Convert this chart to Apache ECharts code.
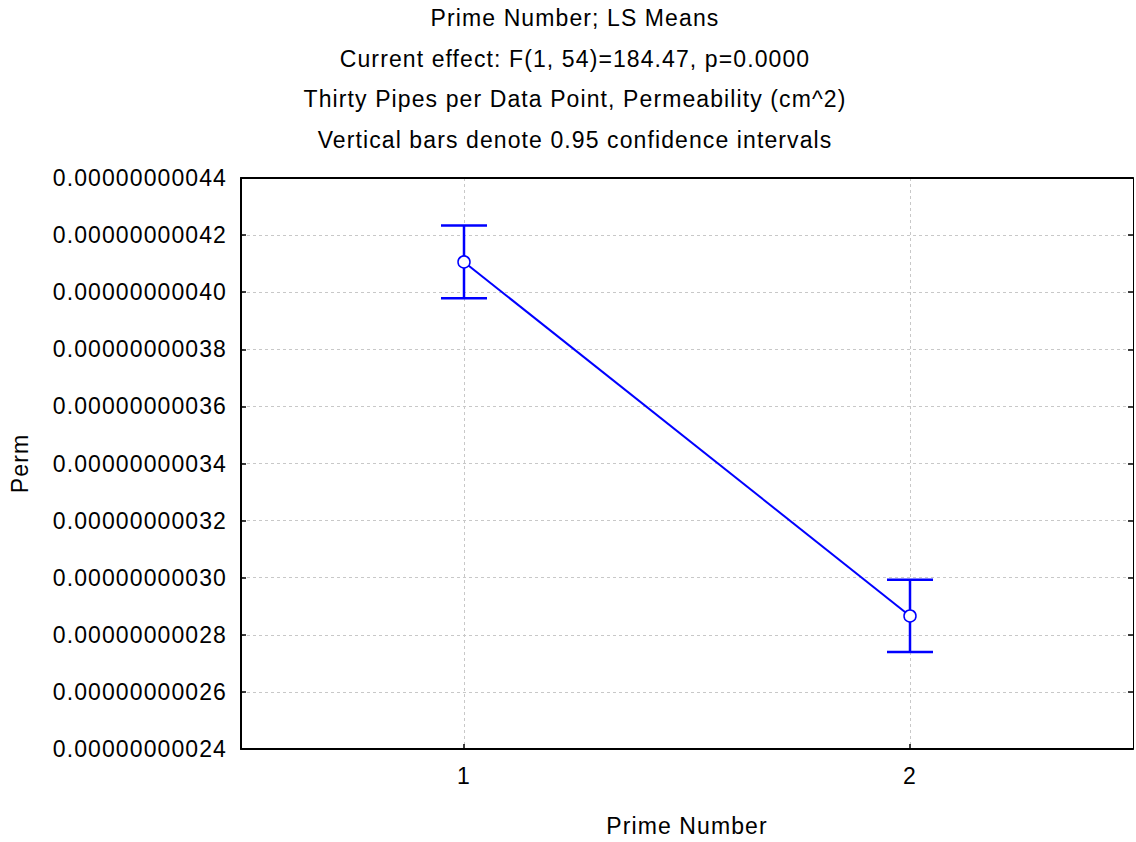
<!DOCTYPE html>
<html>
<head>
<meta charset="utf-8">
<script src="https://cdn.jsdelivr.net/npm/echarts@6/dist/echarts.min.js"></script>
<style>
html,body{margin:0;padding:0;background:#fff;}
#chart{width:1136px;height:842px;letter-spacing:1.1px;}
</style>
</head>
<body>
<div id="chart"></div>
<script>
// ---- data ----
const titleLines = [
  'Prime Number; LS Means',
  'Current effect: F(1, 54)=184.47, p=0.0000',
  'Thirty Pipes per Data Point, Permeability (cm^2)',
  'Vertical bars denote 0.95 confidence intervals'
];
const categories = ['1', '2'];
const means = [0.4106e-9, 0.2866e-9];
const lower = [0.3979e-9, 0.2740e-9];
const upper = [0.4234e-9, 0.2993e-9];
const yMin = 0.24e-9;
const yMax = 0.44e-9;
const yStep = 0.02e-9;
const xName = 'Prime Number';
const yName = 'Perm';

const FONT = '"Liberation Sans", Arial, sans-serif';
const FS = 23;
const chart = echarts.init(document.getElementById('chart'), null, {renderer: 'svg'});

const errData = categories.map((c, i) => [i, lower[i], upper[i]]);

chart.setOption({
  animation: false,
  backgroundColor: '#fff',
  textStyle: {fontFamily: FONT, color: '#000'},
  title: {
    text: titleLines.join('\n'),
    left: 575,
    top: -2,
    padding: 0,
    textAlign: 'center',
    textStyle: {fontFamily: FONT, fontSize: FS, fontWeight: 'normal', color: '#000', lineHeight: 40.5}
  },
  grid: {left: 241, top: 178, right: 3, bottom: 90, containLabel: false},
  xAxis: [{
    type: 'category',
    data: categories,
    boundaryGap: true,
    position: 'bottom',
    name: xName,
    nameLocation: 'middle',
    nameGap: 65,
    nameTextStyle: {fontFamily: FONT, fontSize: FS, color: '#000'},
    axisLine: {show: true, lineStyle: {color: '#000', width: 2}},
    axisTick: {show: true, inside: true, alignWithLabel: true, length: 5, lineStyle: {color: '#000', width: 1.5}},
    axisLabel: {fontFamily: FONT, fontSize: FS, color: '#000', margin: 15},
    splitLine: {show: true, alignWithLabel: true, lineStyle: {color: '#c8c8c8', type: [3, 3], width: 1}}
  }, {
    type: 'category',
    data: categories,
    position: 'top',
    axisLine: {show: true, lineStyle: {color: '#000', width: 2}},
    axisTick: {show: false},
    axisLabel: {show: false},
    splitLine: {show: false}
  }],
  yAxis: [{
    type: 'value',
    min: yMin,
    max: yMax,
    interval: yStep,
    position: 'left',
    name: yName,
    nameLocation: 'middle',
    nameRotate: 90,
    nameGap: 210,
    nameTextStyle: {fontFamily: FONT, fontSize: FS, color: '#000'},
    axisLine: {show: true, lineStyle: {color: '#000', width: 2}},
    axisTick: {show: true, inside: true, length: 5, lineStyle: {color: '#000', width: 1.5}},
    axisLabel: {
      fontFamily: FONT, fontSize: FS, color: '#000', margin: 14,
      formatter: v => v.toFixed(11)
    },
    splitLine: {show: true, lineStyle: {color: '#c8c8c8', type: [3, 3], width: 1}}
  }, {
    type: 'value',
    min: yMin,
    max: yMax,
    interval: yStep,
    position: 'right',
    axisLine: {show: true, lineStyle: {color: '#000', width: 1}},
    axisTick: {show: true, inside: true, length: 5, lineStyle: {color: '#000', width: 1.5}},
    axisLabel: {show: false},
    splitLine: {show: false}
  }],
  series: [{
    type: 'custom',
    name: 'ci',
    xAxisIndex: 0,
    yAxisIndex: 0,
    z: 2,
    data: errData,
    renderItem: function (params, api) {
      const lo = api.coord([api.value(0), api.value(1)]);
      const hi = api.coord([api.value(0), api.value(2)]);
      const hw = 23;
      const st = {stroke: '#0000ff', lineWidth: 2.5};
      return {
        type: 'group',
        children: [
          {type: 'line', shape: {x1: lo[0], y1: lo[1], x2: hi[0], y2: hi[1]}, style: st},
          {type: 'line', shape: {x1: lo[0] - hw, y1: lo[1], x2: lo[0] + hw, y2: lo[1]}, style: st},
          {type: 'line', shape: {x1: hi[0] - hw, y1: hi[1], x2: hi[0] + hw, y2: hi[1]}, style: st}
        ]
      };
    }
  }, {
    type: 'line',
    name: 'mean',
    xAxisIndex: 0,
    yAxisIndex: 0,
    z: 3,
    data: means,
    symbol: 'circle',
    symbolSize: 12,
    lineStyle: {color: '#0000ff', width: 2},
    itemStyle: {color: '#ffffff', borderColor: '#0000ff', borderWidth: 1.5}
  }]
});
</script>
</body>
</html>
